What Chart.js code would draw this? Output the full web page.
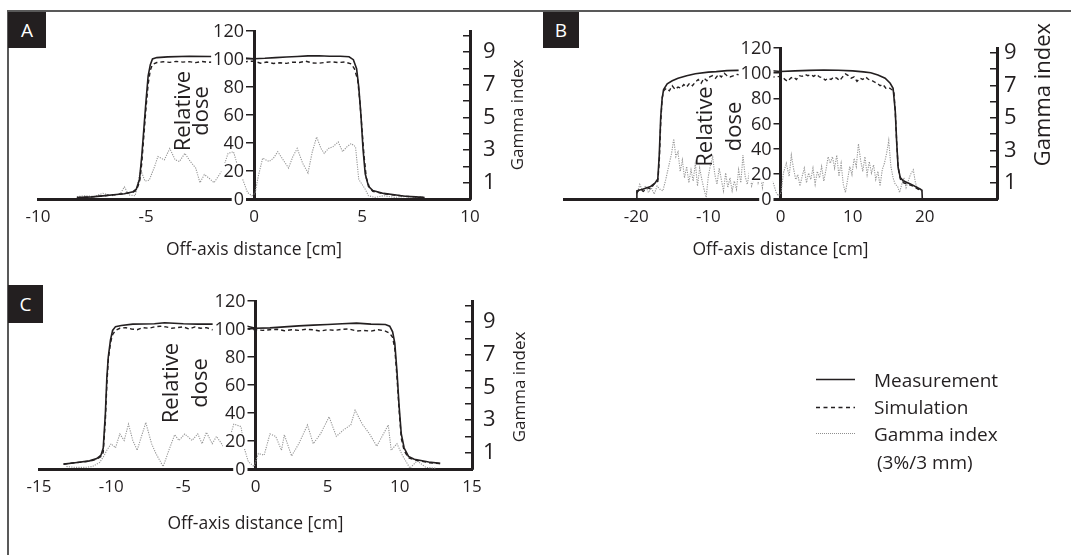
<!DOCTYPE html>
<html><head><meta charset="utf-8"><title>Off-axis dose profiles</title>
<script src="https://cdn.jsdelivr.net/npm/chart.js@4.4.1/dist/chart.umd.min.js"></script>
<style>
html,body{margin:0;padding:0;background:#fff;}
#fig{position:relative;width:1071px;height:555px;overflow:hidden;background:#fff;font-family:"Open Sans",sans-serif;color:#231f20;}
#fig canvas{position:absolute;}
.rule{position:absolute;background:#595959;}
.tag{position:absolute;background:#231f20;color:#fff;font-size:19px;line-height:1;display:flex;align-items:center;justify-content:center;}
.leg{position:absolute;font-size:19px;line-height:1;white-space:nowrap;transform:translateY(-50%);}
svg{position:absolute;left:0;top:0;}
</style></head><body>
<div id="fig">
  <canvas id="cA" width="540" height="258" style="left:10px;top:12px"></canvas>
  <canvas id="cB" width="521" height="258" style="left:550px;top:12px"></canvas>
  <canvas id="cC" width="540" height="273" style="left:10px;top:282px"></canvas>
  <div class="rule" style="left:7px;top:10px;width:1064px;height:2px"></div>
  <div class="rule" style="left:7px;top:10px;width:2px;height:545px"></div>
  <div class="tag" style="left:8px;top:12px;width:38px;height:36px">A</div>
  <div class="tag" style="left:543px;top:12px;width:36px;height:36px">B</div>
  <div class="tag" style="left:8px;top:285px;width:35px;height:38px">C</div>
  <svg width="1071" height="555">
    <line x1="816" y1="379.5" x2="855" y2="379.5" stroke="#231f20" stroke-width="1.5"/>
    <line x1="816" y1="407.5" x2="855" y2="407.5" stroke="#231f20" stroke-width="1.4" stroke-dasharray="4 3.5"/>
    <line x1="816" y1="433.5" x2="855" y2="433.5" stroke="#8f8f8f" stroke-width="1.1" stroke-dasharray="1 1"/>
  </svg>
  <div class="leg" style="left:874px;top:380px">Measurement</div>
  <div class="leg" style="left:874px;top:407px">Simulation</div>
  <div class="leg" style="left:874px;top:434px">Gamma index</div>
  <div class="leg" style="left:877px;top:462px">(3%/3 mm)</div>
</div>
<script>
const INK = '#231f20';

// ---------- Panel A ----------
const aXTicks = [-10, -5, 0, 5, 10];
const aMeasX = [-8.2,-7.5,-7.0,-6.5,-6.0,-5.6,-5.45,-5.3,-5.2,-5.1,-5.0,-4.9,-4.8,-4.7,-4.5,-4.0,-3.0,-2.0,-1.0,0,0.5,1.0,1.5,2.0,2.5,3.0,3.5,4.0,4.4,4.6,4.75,4.85,4.95,5.05,5.15,5.3,5.5,6.0,6.5,7.0,7.5,7.9];
const aMeas  = [1.0,1.5,2.2,3.0,3.8,5.2,7,14,30,50,70,88,96,100,101,101.5,102,101.8,101.4,100.2,100.5,101,101.4,101.8,102.2,102.3,102,102,101.6,99.5,93,80,60,35,18,9,6,4,3,2,1.5,1.0];
const aSimX  = [-8.2,-7.5,-7.0,-6.5,-6.0,-5.6,-5.45,-5.3,-5.2,-5.1,-5.0,-4.9,-4.8,-4.7,-4.5,-4.2,-3.9,-3.6,-3.3,-3.0,-2.7,-2.4,-2.1,-1.8,-1.5,-1.2,-0.9,-0.6,-0.3,0,0.3,0.6,0.9,1.2,1.5,1.8,2.1,2.4,2.7,3.0,3.3,3.6,3.9,4.2,4.5,4.65,4.8,4.9,5.0,5.1,5.2,5.35,5.5,6.0,6.5,7.0,7.5,7.9];
const aSim   = [1.0,1.5,2.2,3.0,3.8,5.0,6,12,25,45,65,82,92,96,97.5,98,97.6,98.3,97.8,98.1,97.4,98.2,97.7,98,97.6,98.3,98,97.5,98.2,98.5,97,97.8,96.8,97.3,96.9,97.8,97.5,98.4,97.2,97,97.6,98,97.4,97.9,96.5,93,85,70,50,30,15,8,5.5,3.8,2.8,2,1.5,1.0];
const aGamX  = [-8.2,-7.8,-7.4,-7.0,-6.6,-6.2,-6.0,-5.8,-5.5,-5.25,-5.05,-4.85,-4.6,-4.45,-4.15,-3.9,-3.65,-3.45,-3.2,-2.95,-2.7,-2.5,-2.3,-2.1,-1.85,-1.65,-1.45,-1.2,-0.95,-0.75,-0.55,-0.3,-0.1,0.05,0.2,0.4,0.7,0.9,1.1,1.35,1.6,1.8,2.0,2.25,2.5,2.7,2.9,3.1,3.25,3.45,3.65,3.9,4.1,4.3,4.5,4.7,4.85,5.0,5.15,5.3,5.6,6.0,6.5,7.0,7.5,7.9];
const aGam   = [0.15,0.2,0.15,0.35,0.2,0.3,0.75,0.25,0.2,1.8,1.1,1.15,2.0,2.6,2.4,3.1,2.4,2.3,2.8,2.3,1.9,1.0,1.5,1.3,1.0,1.4,1.8,2.8,2.9,2.0,1.3,0.4,0.2,0.35,1.4,2.5,2.3,2.5,2.9,2.4,1.9,2.6,3.1,2.2,1.6,2.9,3.8,3.1,2.8,3.1,3.2,3.5,2.9,3.2,3.4,3.2,1.2,0.9,0.6,0.2,0.1,0.2,0.1,0.15,0.1,0.1];

// ---------- Panel B ----------
const bXTicks = [-20, -10, 0, 10, 20];
const bMeasX = [-20,-19.9,-19.0,-18.0,-17.4,-17.0,-16.8,-16.6,-16.4,-16.2,-15.7,-15.0,-14.2,-13.0,-11.8,-10.0,-8.9,-7.4,-6.0,-4.0,-2.0,0,2,4,6,8,10,11.5,12.5,13.5,14.5,15.2,15.6,15.9,16.1,16.3,16.6,17.0,18.0,19.0,19.6,19.65];
const bMeas  = [0,6.5,8,10,12.5,16,35,65,80,87,91.5,94,96,98,99.5,100.8,101.2,102,102.2,102.3,102.3,101.3,101.8,102.2,102.5,102.3,101.8,101,100.4,98.5,96,92,88,70,45,25,17,14.5,12,9,7,0];
const bSimX  = [-19.9,-19.5,-19.0,-18.5,-18.0,-17.5,-17.0,-16.8,-16.6,-16.4,-16.2,-15.8,-15.4,-15.0,-14.6,-14.2,-13.8,-13.4,-13.0,-12.6,-12.2,-11.8,-11.4,-11.0,-10.6,-10.2,-9.8,-9.4,-9.0,-8.6,-8.2,-7.8,-7.4,-7.0,-6.0,-5.0,-4.0,-3.0,-2.0,-1.0,0.2,0.6,1.0,1.4,1.8,2.2,2.6,3.0,3.4,3.8,4.2,4.6,5.0,5.4,5.8,6.2,6.6,7.0,7.4,7.8,8.2,8.6,9.0,9.4,9.8,10.2,10.6,11.0,11.4,11.8,12.2,12.6,13.0,13.4,13.8,14.2,14.6,15.0,15.4,15.7,15.9,16.1,16.3,16.6,17.0,17.5,18.0,18.5,19.0,19.6];
const bSim   = [5,8,6,9,8,12,14,30,60,80,86,88,86,90,87,89,88,91,89,92,90,93,95,92,96,94,97,98,96,99,97,100,98,97,99,98,100,99,98,97,97.5,95,93.5,96,97,95,98,97.5,99,98,98.8,97.5,99,97,96.5,94.5,96,95,97,96,94,97,99.5,98,96,97,93.5,96,95,97,95,94.5,93,92,90,91,88,88.5,87,86,70,45,25,16,13,12,11,10,8,6];
const bGamX  = [-19.9,-19.5,-19.1,-18.7,-18.3,-17.9,-17.5,-17.1,-16.7,-16.3,-15.9,-15.5,-15.1,-14.8,-14.5,-14.2,-13.9,-13.6,-13.3,-13.0,-12.7,-12.4,-12.1,-11.8,-11.5,-11.2,-10.9,-10.6,-10.3,-10.0,-9.7,-9.4,-9.1,-8.8,-8.5,-8.2,-7.9,-7.6,-7.3,-7.0,-6.7,-6.4,-6.1,-5.8,-5.5,-5.2,-4.9,-4.6,-4.3,-4.0,-3.7,-3.4,-3.1,-2.8,-2.5,-2.2,-1.9,-1.6,-1.3,-1.0,-0.6,-0.3,
                0.1,0.4,0.8,1.2,1.5,1.8,2.1,2.4,2.7,3.0,3.3,3.6,3.9,4.2,4.5,4.8,5.1,5.4,5.7,6.0,6.3,6.6,6.9,7.2,7.5,7.8,8.1,8.4,8.7,9.0,9.3,9.6,9.9,10.2,10.5,10.8,11.1,11.4,11.7,12.0,12.3,12.6,12.9,13.2,13.5,13.8,14.1,14.4,14.7,15.0,15.3,15.6,15.9,16.2,16.5,16.8,17.1,17.4,17.7,18.0,18.4,18.7,19.0,19.3,19.6];
const bGam   = [0.3,0.9,0.5,0.8,0.4,0.7,0.3,0.8,0.6,0.5,1.2,2.0,2.8,3.7,2.6,2.9,1.7,2.4,1.3,2.0,1.0,1.8,1.1,2.2,0.8,1.9,1.2,0.6,0.1,1.4,2.1,2.6,1.5,0.9,1.9,1.2,0.5,1.6,0.7,1.3,0.5,1.1,0.6,1.8,1.0,2.7,1.4,0.9,1.7,0.8,1.2,1.9,1.0,1.5,0.7,1.6,1.1,2.0,1.3,1.0,0.4,0.2,
                0.4,1.6,2.2,1.4,2.7,1.9,1.2,1.5,0.8,1.4,1.9,1.0,1.6,1.2,1.9,0.9,1.7,1.3,2.0,1.1,1.8,2.6,2.2,2.6,1.9,2.7,1.4,2.2,0.9,0.4,1.2,2.0,1.5,2.5,2.0,3.4,2.4,1.7,2.6,1.5,2.3,1.6,2.1,1.2,1.7,0.8,1.8,2.2,2.8,3.6,2.0,1.3,0.9,0.8,0.4,0.9,1.3,0.7,1.1,1.5,1.8,1.0,0.6,0.7,0.5];

// ---------- Panel C ----------
const cXTicks = [-15, -10, -5, 0, 5, 10, 15];
const cMeasX = [-13.3,-12.5,-11.5,-11.0,-10.7,-10.55,-10.4,-10.3,-10.2,-10.05,-9.9,-9.7,-9.3,-8.5,-7.0,-6.3,-5.0,-4.0,-3.0,-2.0,-1.0,0,1,2,3,4,5,6,7,8,9,9.3,9.5,9.65,9.8,9.95,10.1,10.3,10.6,11.0,12.0,12.8];
const cMeas  = [3.5,4.5,5.8,7.5,10,15,40,65,80,92,99,101.7,102.5,103.5,103.8,104.5,103.8,103.5,103.5,103.2,103,100.5,100.8,101.5,102.2,102.8,103.2,103.8,104.2,103.5,103.2,102,98,90,70,45,25,15,9,7,5,4];
const cSimX  = [-13.3,-12.5,-11.5,-11.0,-10.7,-10.55,-10.4,-10.3,-10.2,-10.05,-9.9,-9.7,-9.4,-9.0,-8.6,-8.2,-7.8,-7.4,-7.0,-6.6,-6.2,-5.8,-5.4,-5.0,-4.6,-4.2,-3.8,-3.4,-3.0,-2.6,-2.2,-1.8,-1.4,-1.0,-0.5,0,0.5,1.0,1.5,2.0,2.5,3.0,3.5,4.0,4.5,5.0,5.5,6.0,6.5,7.0,7.5,8.0,8.5,9.0,9.3,9.5,9.65,9.8,9.95,10.1,10.3,10.6,11.0,12.0,12.8];
const cSim   = [3.5,4.5,5.5,7,9,12,35,60,78,90,96,99,100.5,101,100,99.5,101,100.5,101.5,102,101.5,100.5,101,101.5,100,101.5,100.5,101,99.5,100.5,100,100.8,100.2,100.5,100,99.5,99,99.5,99.8,98.8,99.5,99,99.8,99.5,98.5,99.5,99,99.8,100,98.5,99,98.5,99.5,98.5,97,94,86,66,42,22,13,8,6.5,4.5,3.8];
const cGamX  = [-13.1,-12.5,-11.8,-11.3,-10.8,-10.5,-10.3,-10.0,-9.7,-9.4,-9.1,-8.8,-8.5,-8.2,-7.9,-7.6,-7.2,-6.9,-6.4,-6.0,-5.6,-5.3,-4.9,-4.4,-4.0,-3.7,-3.4,-3.0,-2.7,-2.2,-1.8,-1.5,-1.0,-0.8,-0.5,-0.1,0.2,0.6,1.0,1.4,1.8,2.0,2.5,3.0,3.6,4.0,4.5,5.1,5.6,6.1,6.6,6.9,7.4,7.9,8.4,9.2,9.4,9.8,10.2,10.7,11.2,11.8,12.5];
const cGam   = [0.15,0.1,0.1,0.15,0.4,0.8,1.15,1.55,1.3,2.15,1.75,2.75,1.75,1.15,2.0,2.85,1.55,0.95,0.15,1.15,2.1,1.75,2.15,1.75,2.15,1.55,2.25,1.55,2.0,1.35,1.9,2.75,2.6,1.35,0.45,0.15,0.95,0.85,2.15,2.0,1.15,2.1,0.8,1.55,2.7,1.55,2.15,3.2,2.0,2.4,2.7,3.6,2.75,2.15,1.4,2.7,1.15,1.55,0.8,0.05,0.5,0.1,0.05];

const gammaTickVals = [0, 1, 2, 3, 4, 5, 6, 7, 8, 9, 10];
const gammaLabels = [1, 3, 5, 7, 9];

const pts = (xs, ys) => xs.map((x, i) => ({ x: x, y: ys[i] }));

// draws dose tick labels (with white backdrop), "Relative dose" and "Gamma index" titles
const decor = {
  id: 'decor',
  afterDatasetsDraw(chart, args, o) {
    const ctx = chart.ctx, ys = chart.scales.dose, ax = chart.scales.x.getPixelForValue(0);
    ctx.save();
    ctx.font = o.doseFont + 'px "Open Sans", sans-serif';
    ctx.textAlign = 'right';
    ctx.textBaseline = 'middle';
    ys.ticks.forEach(t => {
      const y = ys.getPixelForValue(t.value);
      const txt = String(t.value);
      const w = ctx.measureText(txt).width;
      const xr = ax - o.labelGap;
      ctx.fillStyle = '#fff';
      ctx.fillRect(xr - w - 2, y - 8, w + 4, 16);
      ctx.fillStyle = INK;
      ctx.fillText(txt, xr, y + 1);
    });
    ctx.restore();
  },
  afterDraw(chart, args, o) {
    const ctx = chart.ctx, ca = chart.chartArea, ax = chart.scales.x.getPixelForValue(0);
    const mid = (ca.top + ca.bottom) / 2;
    const rot = (txt, x, y, size) => {
      ctx.save();
      ctx.translate(x, y);
      ctx.rotate(-Math.PI / 2);
      ctx.font = size + 'px "Open Sans", sans-serif';
      ctx.fillStyle = INK;
      ctx.textAlign = 'center';
      ctx.textBaseline = 'middle';
      ctx.fillText(txt, 0, 0);
      ctx.restore();
    };
    rot('Relative', ax + o.relX[0], mid + o.relDy, o.relSize);
    rot('dose', ax + o.relX[1], mid + o.relDy, o.relSize);
    rot('Gamma index', ca.right + o.gDx, mid + o.gDy, o.gSize);
  }
};

const noPad = s => { s.paddingTop = 0; s.paddingBottom = 0; s.paddingLeft = 0; s.paddingRight = 0; };

function build(id, p) {
  return new Chart(document.getElementById(id), {
    type: 'line',
    data: { datasets: [
      { label: 'Measurement', data: pts(p.mx, p.my), yAxisID: 'dose', borderColor: INK, borderWidth: 1.6, pointRadius: 0, fill: false },
      { label: 'Simulation', data: pts(p.sx, p.sy), yAxisID: 'dose', borderColor: INK, borderWidth: 1.4, borderDash: [4, 3], pointRadius: 0, fill: false },
      { label: 'Gamma index (3%/3 mm)', data: pts(p.gx, p.gy), yAxisID: 'gamma', borderColor: '#969696', borderWidth: 1.1, borderDash: [1.2, 1.2], pointRadius: 0, fill: false }
    ]},
    options: {
      responsive: false, animation: false, events: [],
      layout: { padding: p.pad },
      plugins: { legend: { display: false }, tooltip: { enabled: false }, decor: p.decor },
      scales: {
        x: {
          type: 'linear', axis: 'x', position: 'bottom', min: p.xmin, max: p.xmax, z: 1,
          afterFit: s => { s.height = p.xh; noPad(s); },
          ticks: { stepSize: p.xstep, autoSkip: false, maxRotation: 0, padding: 8, color: INK, font: { size: 17 },
                   callback: v => (p.xlab.includes(v) ? String(v) : '') },
          grid: { display: false, drawTicks: false },
          border: { display: true, color: INK, width: 3 },
          title: { display: true, text: 'Off-axis distance [cm]', color: INK, font: { size: 17.5 }, padding: { top: 0, bottom: 2.5 } }
        },
        dose: {
          type: 'linear', axis: 'y', position: { x: 0 }, min: 0, max: 120,
          afterFit: noPad,
          ticks: { stepSize: 20, display: false },
          grid: { display: true, drawOnChartArea: false, drawTicks: true, tickLength: 7, color: INK, lineWidth: 1.5 },
          border: { display: true, color: INK, width: 3 }
        },
        gamma: {
          type: 'linear', axis: 'y', position: 'right', min: 0, max: p.gmax,
          afterBuildTicks: s => { s.ticks = gammaTickVals.filter(v => v <= s.max).map(v => ({ value: v })); },
          afterFit: s => { s.width = p.gw; noPad(s); },
          ticks: { autoSkip: false, padding: p.gpad, color: INK, font: { size: 22 },
                   callback: v => (gammaLabels.includes(v) ? String(v) : '') },
          grid: { display: true, drawOnChartArea: false, drawTicks: true, tickLength: -7, color: INK, lineWidth: 1.5 },
          border: { display: true, color: INK, width: 3 }
        }
      }
    },
    plugins: [decor]
  });
}

function drawAll() {
  Chart.defaults.font.family = '"Open Sans", sans-serif';
  Chart.defaults.color = INK;
  build('cA', {
    mx: aMeasX, my: aMeas, sx: aSimX, sy: aSim, gx: aGamX, gy: aGam,
    xmin: -10, xmax: 10, xstep: 5, xlab: aXTicks, gmax: 10.3,
    pad: { left: 28, top: 19, right: 0, bottom: 7 }, xh: 64, gw: 80, gpad: 20,
    decor: { doseFont: 18, labelGap: 10, relX: [-70, -52], relDy: -4, relSize: 22, gDx: 48, gDy: 0, gSize: 17 }
  });
  build('cB', {
    mx: bMeasX, my: bMeas, sx: bSimX, sy: bSim, gx: bGamX, gy: bGam,
    xmin: -30, xmax: 30, xstep: 10, xlab: bXTicks, gmax: 9.3,
    pad: { left: 14, top: 36, right: 0, bottom: 7 }, xh: 64, gw: 74, gpad: 14,
    decor: { doseFont: 18, labelGap: 9, relX: [-75, -46], relDy: 3, relSize: 22, gDx: 47, gDy: -29, gSize: 22 }
  });
  build('cC', {
    mx: cMeasX, my: cMeas, sx: cSimX, sy: cSim, gx: cGamX, gy: cGam,
    xmin: -15, xmax: 15, xstep: 5, xlab: cXTicks, gmax: 10.3,
    pad: { left: 29, top: 19, right: 0, bottom: 18 }, xh: 68, gw: 78, gpad: 18,
    decor: { doseFont: 18, labelGap: 10, relX: [-84, -55], relDy: -2, relSize: 22, gDx: 48, gDy: 2, gSize: 17 }
  });
}

let done = false;
function go() { if (!done) { done = true; drawAll(); } }
if (document.fonts && document.fonts.load) {
  Promise.all([document.fonts.load('18px "Open Sans"'), document.fonts.load('22px "Open Sans"')]).then(go, go);
  setTimeout(go, 1500);
} else { go(); }
</script>
</body></html>
